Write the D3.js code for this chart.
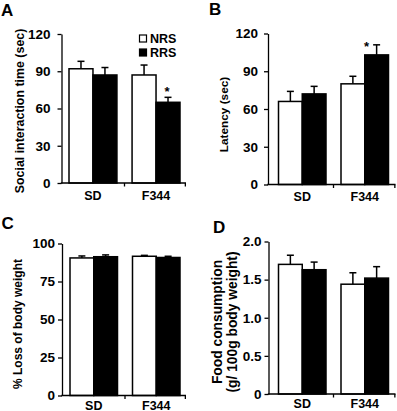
<!DOCTYPE html>
<html>
<head>
<meta charset="utf-8">
<script src="https://cdn.jsdelivr.net/npm/d3@7"></script>
<style>
  body { margin: 0; background: #fff; }
  text { font-family: "Liberation Sans", Arial, Helvetica, sans-serif; font-weight: bold; }
</style>
</head>
<body>
<script>
// categories
var groups = ["SD", "F344"];
var seriesNames = ["NRS", "RRS"];

// A - social interaction time (sec)
var socialNRS = [92, 87], socialNRSErr = [6, 8];
var socialRRS = [87, 65], socialRRSErr = [6, 4];
var socialStars = [["", ""], ["", "*"]];
var socialTicks = [0, 30, 60, 90, 120];
var socialTickLabels = ["0", "30", "60", "90", "120"];

// B - latency (sec)
var latencyNRS = [66, 80], latencyNRSErr = [8, 6];
var latencyRRS = [72, 103], latencyRRSErr = [6, 8];
var latencyStars = [["", ""], ["", "*"]];
var latencyTicks = [0, 30, 60, 90, 120];
var latencyTickLabels = ["0", "30", "60", "90", "120"];

// C - % loss of body weight
var weightNRS = [90.5, 91.6], weightNRSErr = [1.3, 0.6];
var weightRRS = [91.3, 90.8], weightRRSErr = [1.2, 0.8];
var weightTicks = [0, 25, 50, 75, 100];
var weightTickLabels = ["0", "25", "50", "75", "100"];

// D - food consumption
var foodNRS = [1.70, 1.44], foodNRSErr = [0.12, 0.15];
var foodRRS = [1.63, 1.52], foodRRSErr = [0.10, 0.15];
var foodTicks = [0, 0.5, 1.0, 1.5, 2.0];
var foodTickLabels = ["0", "0.5", "1.0", "1.5", "2.0"];

var svg = d3.select("body").append("svg")
    .attr("width", 397)
    .attr("height", 411);

var panel = function (p) {
    var y = d3.scaleLinear()
        .domain([0, p.ticks[p.ticks.length - 1]])
        .range([p.bottom, p.top]);

    var gx = d3.scaleBand().domain(groups).range([p.barL, p.barR]).paddingInner(0.24);
    var sx = d3.scaleBand().domain(seriesNames).range([0, gx.bandwidth()]);

    var g = svg.append("g");

    // panel letter
    g.append("text")
        .attr("x", p.letterX)
        .attr("y", p.letterY)
        .attr("font-size", 17)
        .text(p.letter);

    // y axis
    var ya = g.append("g")
        .attr("transform", "translate(" + p.left + ",0)")
        .call(d3.axisLeft(y)
            .tickValues(p.ticks)
            .tickFormat(function (d, i) { return p.tickLabels[i]; })
            .tickSize(4)
            .tickSizeOuter(0)
            .tickPadding(p.pad));
    ya.selectAll("path, line").attr("stroke", "#000").attr("stroke-width", 1.3);
    ya.selectAll("text")
        .attr("font-size", 13.5)
        .attr("font-family", "'Liberation Sans', Arial, sans-serif")
        .attr("font-weight", "bold")
        .attr("fill", "#000");

    // y title
    var title = g.append("text")
        .attr("transform", "translate(" + p.titleX + "," + p.titleY + ") rotate(-90)")
        .attr("text-anchor", "middle")
        .attr("font-size", p.titleSize);
    p.title.forEach(function (t, i) {
        title.append("tspan")
            .attr("x", 0)
            .attr("y", i * p.titleLead)
            .text(t);
    });

    // bars
    var rows = [];
    groups.forEach(function (grp, i) {
        seriesNames.forEach(function (s, j) {
            rows.push({
                grp: grp, s: s,
                v: p.means[j][i], e: p.errs[j][i],
                star: p.stars ? p.stars[i][j] : ""
            });
        });
    });
    var cx = function (d) { return gx(d.grp) + sx(d.s) + sx.bandwidth() / 2; };

    // error bars (drawn before bars so the bar outline covers the stem base)
    g.selectAll(".err")
        .data(rows)
        .enter().append("line")
        .attr("x1", cx).attr("x2", cx)
        .attr("y1", function (d) { return y(d.v); })
        .attr("y2", function (d) { return y(d.v + d.e); })
        .attr("stroke", "#000").attr("stroke-width", 1.5);
    g.selectAll(".cap")
        .data(rows)
        .enter().append("line")
        .attr("x1", function (d) { return cx(d) - 3.5; })
        .attr("x2", function (d) { return cx(d) + 3.5; })
        .attr("y1", function (d) { return y(d.v + d.e); })
        .attr("y2", function (d) { return y(d.v + d.e); })
        .attr("stroke", "#000").attr("stroke-width", 1.5);

    g.selectAll(".bar")
        .data(rows)
        .enter().append("rect")
        .attr("x", function (d) { return gx(d.grp) + sx(d.s); })
        .attr("y", function (d) { return y(d.v); })
        .attr("width", sx.bandwidth())
        .attr("height", function (d) { return y(0) - y(d.v); })
        .attr("fill", function (d) { return d.s === "NRS" ? "#fff" : "#000"; })
        .attr("stroke", "#000")
        .attr("stroke-width", 1.5);

    g.selectAll(".star")
        .data(rows.filter(function (d) { return d.star; }))
        .enter().append("text")
        .attr("x", function (d) { return cx(d) + p.starDx; })
        .attr("y", function (d) { return y(d.v + d.e) + p.starDy; })
        .attr("text-anchor", "middle")
        .attr("font-size", 13)
        .text(function (d) { return d.star; });

    // x axis
    var x0 = y(0);
    g.append("line")
        .attr("x1", p.left - 0.65).attr("x2", p.right)
        .attr("y1", x0).attr("y2", x0)
        .attr("stroke", "#000").attr("stroke-width", 1.3);
    var midTick = gx(groups[1]) - gx.step() * gx.paddingInner() / 2;
    [midTick, p.right - 0.65].forEach(function (tx) {
        g.append("line")
            .attr("x1", tx).attr("x2", tx)
            .attr("y1", x0).attr("y2", x0 + 3.5)
            .attr("stroke", "#000").attr("stroke-width", 1.3);
    });
    g.selectAll(".xl")
        .data(groups)
        .enter().append("text")
        .attr("x", function (d) { return gx(d) + gx.bandwidth() / 2; })
        .attr("y", x0 + p.labelDy)
        .attr("text-anchor", "middle")
        .attr("font-size", 12.5)
        .text(function (d) { return d; });

    return g;
};

var a = panel({
    letter: "A", letterX: 1, letterY: 16,
    left: 61.5, right: 186, top: 34, bottom: 183, barL: 69, barR: 180, pad: 7,
    ticks: socialTicks, tickLabels: socialTickLabels,
    means: [socialNRS, socialRRS], errs: [socialNRSErr, socialRRSErr], stars: socialStars,
    starDx: -1, starDy: -1.5,
    title: ["Social interaction time (sec)"], titleX: 23.5, titleY: 111, titleSize: 12.4, titleLead: 0,
    labelDy: 17
});

panel({
    letter: "B", letterX: 209, letterY: 14.5,
    left: 268, right: 395.5, top: 33.5, bottom: 184.5, barL: 278.5, barR: 388.5, pad: 6,
    ticks: latencyTicks, tickLabels: latencyTickLabels,
    means: [latencyNRS, latencyRRS], errs: [latencyNRSErr, latencyRRSErr], stars: latencyStars,
    starDx: -10, starDy: 6,
    title: ["Latency (sec)"], titleX: 227.5, titleY: 114.5, titleSize: 11.8, titleLead: 0,
    labelDy: 16.5
});

panel({
    letter: "C", letterX: 1.5, letterY: 228.5,
    left: 62, right: 186, top: 243.5, bottom: 395.5, barL: 70, barR: 180, pad: 3,
    ticks: weightTicks, tickLabels: weightTickLabels,
    means: [weightNRS, weightRRS], errs: [weightNRSErr, weightRRSErr], stars: null,
    starDx: 0, starDy: 0,
    title: ["% Loss of body weight"], titleX: 21.5, titleY: 324, titleSize: 12, titleLead: 0,
    labelDy: 14
});

panel({
    letter: "D", letterX: 213, letterY: 232.5,
    left: 268.5, right: 395.5, top: 241.5, bottom: 394, barL: 278.5, barR: 388.5, pad: 3,
    ticks: foodTicks, tickLabels: foodTickLabels,
    means: [foodNRS, foodRRS], errs: [foodNRSErr, foodRRSErr], stars: null,
    starDx: 0, starDy: 0,
    title: ["Food consumption", "(g/ 100g body weight)"], titleX: 222, titleY: 322, titleSize: 13.8, titleLead: 15,
    labelDy: 14
});

// legend (panel A)
var legend = a.append("g").attr("transform", "translate(139.5,35)");
legend.selectAll("rect")
    .data(seriesNames)
    .enter().append("rect")
    .attr("x", 0)
    .attr("y", function (d, i) { return i * 14; })
    .attr("width", 7).attr("height", 7)
    .attr("fill", function (d) { return d === "NRS" ? "#fff" : "#000"; })
    .attr("stroke", "#000").attr("stroke-width", 1.2);
legend.selectAll("text")
    .data(seriesNames)
    .enter().append("text")
    .attr("x", 10.5)
    .attr("y", function (d, i) { return 8 + i * 14; })
    .attr("font-size", 12.5)
    .text(function (d) { return d; });
</script>
</body>
</html>
